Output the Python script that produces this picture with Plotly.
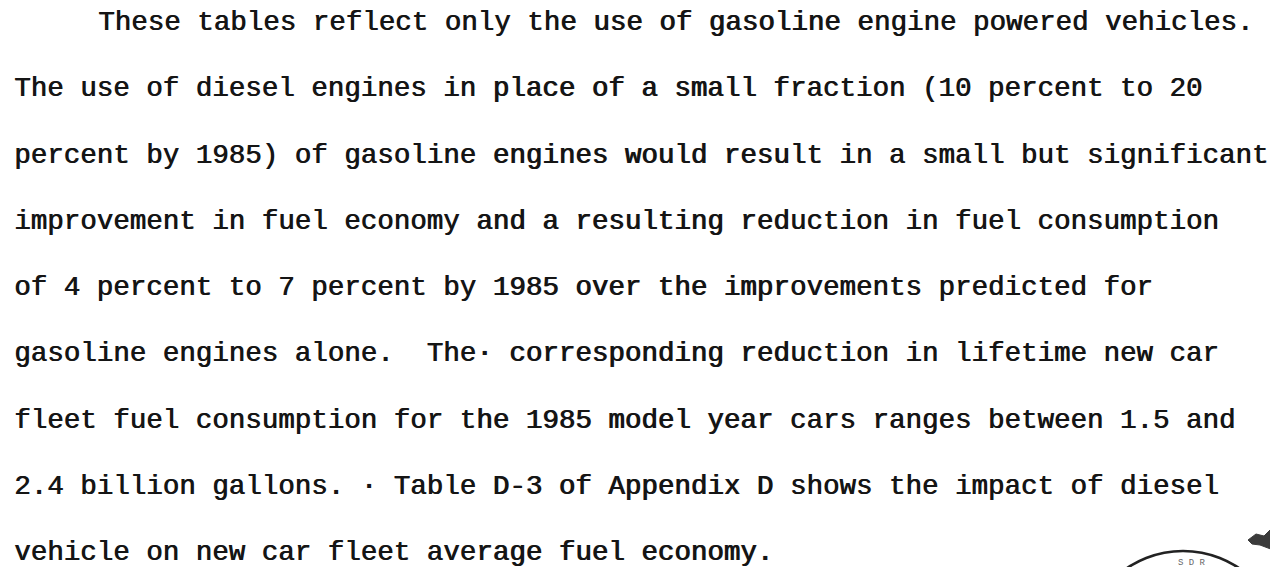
import plotly.graph_objects as go

# ---- content (lines of the typed paragraph) ----
lines = [
    "These tables reflect only the use of gasoline engine powered vehicles.",
    "The use of diesel engines in place of a small fraction (10 percent to 20",
    "percent by 1985) of gasoline engines would result in a small but significant",
    "improvement in fuel economy and a resulting reduction in fuel consumption",
    "of 4 percent to 7 percent by 1985 over the improvements predicted for",
    "gasoline engines alone.  The\u00b7 corresponding reduction in lifetime new car",
    "fleet fuel consumption for the 1985 model year cars ranges between 1.5 and",
    "2.4 billion gallons. \u00b7 Table D-3 of Appendix D shows the impact of diesel",
    "vehicle on new car fleet average fuel economy.",
]
indents = [5.1, 0, 0, 0, 0, 0, 0, 0, 0]
stamp_text = "S D R"

W, H = 1278, 567
FONT = "Liberation Mono"
FS = 27.5
CHARW = FS * 0.6
LEFT = 4
TOP = 14.5
LEAD = 66.25

fig = go.Figure()
fig.add_trace(go.Scatter(x=[0, W], y=[0, H], mode="markers",
                         marker=dict(opacity=0), hoverinfo="skip", showlegend=False))

for i, (txt, ind) in enumerate(zip(lines, indents)):
    fig.add_annotation(
        x=LEFT + ind * CHARW, y=TOP + i * LEAD, xref="x", yref="y",
        text=txt, showarrow=False, xanchor="left", yanchor="middle",
        font=dict(family=FONT, size=FS, color="#151515",
                  shadow="0.8px 0px 0px #151515"),
    )

# partial stamp in the lower-right corner
fig.add_shape(type="circle", xref="x", yref="y",
              x0=1175 - 100, x1=1175 + 100, y0=643 - 100, y1=643 + 100,
              line=dict(color="#222222", width=2.5))
fig.add_annotation(x=1184, y=562, xref="x", yref="y", text=stamp_text, showarrow=False,
                   xanchor="center", yanchor="bottom",
                   font=dict(family=FONT, size=9, color="#666666"))
# ink blot at the right edge
fig.add_shape(type="path", xref="x", yref="y",
              path="M 1240 532 L 1248 526 L 1256 528 L 1262 522 L 1270 524 L 1278 518 L 1278 552 "
                   "L 1273 549 L 1268 543 L 1260 540 L 1252 537 L 1244 536 Z",
              fillcolor="#1a1a1a", line=dict(color="#1a1a1a", width=1), opacity=0.85)

fig.update_xaxes(range=[0, W], visible=False, fixedrange=True)
fig.update_yaxes(range=[H, 0], visible=False, fixedrange=True)
fig.update_layout(width=W, height=H, margin=dict(l=0, r=0, t=0, b=0),
                  paper_bgcolor="white", plot_bgcolor="white", showlegend=False)

fig.write_html("out.html", config={"displayModeBar": False})
